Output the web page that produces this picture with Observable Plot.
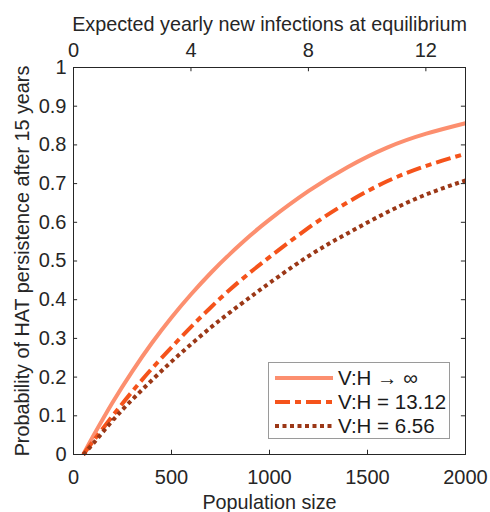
<!DOCTYPE html>
<html><head><meta charset="utf-8">
<script src="https://cdn.jsdelivr.net/npm/d3@7"></script>
<script src="https://cdn.jsdelivr.net/npm/@observablehq/plot@0.6"></script>
<style>
html,body{margin:0;padding:0;background:#fff;}
#wrap{position:relative;width:490px;height:512px;font-family:"Liberation Sans",Arial,sans-serif;}
#legend{position:absolute;left:268px;top:362px;width:182px;height:77px;border:1px solid #9a9a9a;background:#fff;box-sizing:border-box;}
.row{position:absolute;left:6px;height:24px;display:flex;align-items:center;font-size:20.5px;color:#1a1a1a;white-space:nowrap;}
.row svg{margin-right:5px;display:block}
</style></head><body><div id="wrap"></div>
<script>
// Data
const population = [50, 100, 200, 300, 400, 500, 600, 700, 800, 900, 1000, 1200, 1400, 1600, 1800, 2000];
const probInfinite = [0, 0.047, 0.135, 0.215, 0.288, 0.354, 0.414, 0.469, 0.519, 0.565, 0.607, 0.681, 0.743, 0.793, 0.829, 0.856];
const prob1312 = [0, 0.034, 0.1, 0.163, 0.222, 0.277, 0.33, 0.38, 0.427, 0.47, 0.51, 0.586, 0.652, 0.706, 0.746, 0.777];
const prob656 = [0, 0.028, 0.088, 0.142, 0.192, 0.24, 0.285, 0.328, 0.368, 0.406, 0.443, 0.513, 0.572, 0.626, 0.672, 0.708];
const seriesNames = ["V:H \u2192 \u221E", "V:H = 13.12", "V:H = 6.56"];
const seriesValues = [probInfinite, prob1312, prob656];
const colors = ["#fc8f6f", "#f5531b", "#9b3716"];
const dashes = [null, "15,5,6,5", "4,3.5"];
const xTicks = [0, 500, 1000, 1500, 2000];
const yTicks = [0, 0.1, 0.2, 0.3, 0.4, 0.5, 0.6, 0.7, 0.8, 0.9, 1];
const topTicks = [0, 4, 8, 12];
const topMax = 13.35; // expected yearly new infections at population 2000
const xMax = 2000;
const xLabel = "Population size";
const topLabel = "Expected yearly new infections at equilibrium";
const yLabel = "Probability of HAT persistence after 15 years";

const toPop = v => v * xMax / topMax;
const ink = "#262626";
const labelSize = 19.8;

const marks = [];
seriesValues.forEach((vals, i) => {
  const rows = population.map((p, j) => ({pop: p, prob: vals[j]}));
  marks.push(Plot.line(rows, {x: "pop", y: "prob", stroke: colors[i], strokeWidth: 4,
    strokeDasharray: dashes[i], strokeLinecap: "butt", strokeLinejoin: "round", curve: "natural"}));
});
// inward tick marks (box style)
marks.push(Plot.ruleX(xTicks.slice(1, -1), {x: d => d, y1: 0, y2: 0.011, stroke: ink}));
marks.push(Plot.ruleX(topTicks.slice(1).map(toPop), {x: d => d, y1: 1, y2: 0.989, stroke: ink}));
marks.push(Plot.ruleY(yTicks.slice(1, -1), {y: d => d, x1: 0, x2: 21, stroke: ink}));
marks.push(Plot.ruleY(yTicks.slice(1, -1), {y: d => d, x1: xMax, x2: xMax - 21, stroke: ink}));
marks.push(Plot.frame({stroke: ink, strokeWidth: 1}));
marks.push(Plot.axisX(xTicks, {anchor: "bottom", tickSize: 0, tickPadding: 15, label: null,
  tickFormat: d => String(d)}));
marks.push(Plot.axisX(topTicks.map(toPop), {anchor: "top", tickSize: 0, tickPadding: 11, label: null,
  tickFormat: (d, i) => String(topTicks[i])}));
marks.push(Plot.axisY(yTicks, {anchor: "left", tickSize: 0, tickPadding: 7, label: null,
  tickFormat: d => String(d)}));
// axis titles
marks.push(Plot.text([xLabel], {text: d => d, frameAnchor: "bottom", dy: 48, lineAnchor: "middle", fontSize: labelSize, fill: ink}));
marks.push(Plot.text([topLabel], {text: d => d, frameAnchor: "top", dy: -43, lineAnchor: "middle", fontSize: labelSize, fill: ink}));
marks.push(Plot.text([yLabel], {text: d => d, frameAnchor: "left", dx: -51, rotate: -90, textAnchor: "middle", lineAnchor: "middle", fontSize: labelSize, fill: ink}));

const chart = Plot.plot({
  width: 490, height: 512,
  marginLeft: 73, marginRight: 25, marginTop: 67, marginBottom: 58,
  x: {domain: [0, xMax]},
  y: {domain: [0, 1]},
  style: {fontFamily: '"Liberation Sans", Arial, sans-serif', fontSize: "20px", color: ink, background: "#fff"},
  marks
});
const wrap = document.getElementById("wrap");
wrap.appendChild(chart);

// legend
const legend = document.createElement("div");
legend.id = "legend";
const rowTops = [3, 27, 51];
seriesNames.forEach((name, i) => {
  const row = document.createElement("div");
  row.className = "row";
  row.style.top = rowTops[i] + "px";
  const ns = "http://www.w3.org/2000/svg";
  const s = document.createElementNS(ns, "svg");
  s.setAttribute("width", 58); s.setAttribute("height", 10);
  const l = document.createElementNS(ns, "line");
  l.setAttribute("x1", 0); l.setAttribute("x2", 58); l.setAttribute("y1", 5); l.setAttribute("y2", 5);
  l.setAttribute("stroke", colors[i]); l.setAttribute("stroke-width", 4);
  if (dashes[i]) l.setAttribute("stroke-dasharray", dashes[i]);
  s.appendChild(l);
  row.appendChild(s);
  const t = document.createElement("span");
  t.textContent = name;
  row.appendChild(t);
  legend.appendChild(row);
});
wrap.appendChild(legend);
</script>
</body></html>
